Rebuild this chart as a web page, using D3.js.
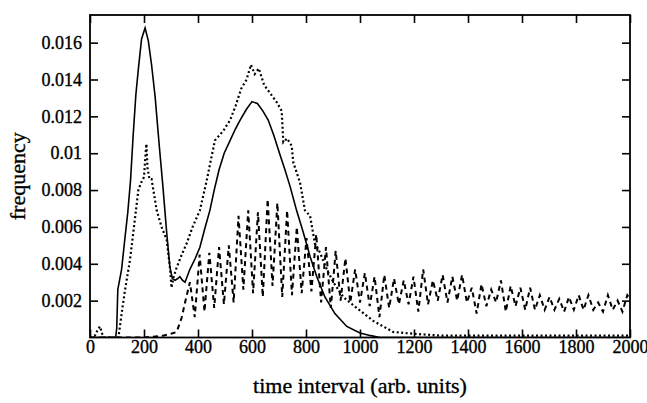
<!DOCTYPE html>
<html>
<head>
<meta charset="utf-8">
<script src="https://cdn.jsdelivr.net/npm/d3@7"></script>
<style>
  body { margin: 0; background: #fff; }
  svg { display: block; }
  text { font-family: "Liberation Serif", "DejaVu Serif", serif; fill: #000; stroke: #000; stroke-width: 0.35px; }
</style>
</head>
<body>
<svg id="chart" width="647" height="403"></svg>
<script>
// tick labels
const xTicks = [0, 200, 400, 600, 800, 1000, 1200, 1400, 1600, 1800, 2000]
const yTicks = [0.002, 0.004, 0.006, 0.008, 0.01, 0.012, 0.014, 0.016]

// solid curve
const solidX = [0, 95, 99, 103, 117, 128, 140, 150, 160, 170, 180, 191, 204, 216, 228, 241, 256, 270, 284, 296, 305, 315, 325, 333, 343, 352, 370, 390, 407, 425, 444, 460, 478, 497, 519, 538, 556, 580, 600, 620, 640, 660, 680, 704, 722, 741, 765, 790, 815, 840, 870, 907, 951, 1000, 1040, 1074, 2000]
const solidY = [0, 0, 0.0005, 0.0026, 0.0037, 0.0052, 0.0068, 0.0085, 0.0110, 0.0132, 0.0147, 0.0162, 0.0168, 0.0161, 0.0148, 0.0131, 0.0105, 0.0082, 0.0057, 0.0038, 0.0032, 0.0031, 0.0032, 0.0033, 0.0031, 0.0030, 0.0037, 0.0043, 0.0049, 0.0059, 0.0069, 0.0080, 0.0091, 0.0100, 0.0107, 0.0113, 0.0118, 0.0124, 0.0128, 0.0127, 0.0123, 0.0118, 0.0110, 0.0099, 0.0091, 0.0082, 0.0069, 0.0057, 0.0044, 0.0033, 0.0022, 0.0013, 0.0006, 0.00024, 0.0001, 0, 0]

// dotted curve
const dotX = [0, 18, 28, 37, 45, 55, 105, 111, 120, 130, 148, 167, 179, 192, 200, 205, 209, 213, 220, 228, 247, 265, 284, 296, 302, 310, 321, 340, 358, 380, 407, 432, 450, 463, 493, 519, 540, 560, 580, 596, 610, 625, 645, 665, 690, 710, 716, 730, 747, 753, 778, 796, 815, 833, 852, 877, 901, 938, 988, 1049, 1123, 1200, 1300, 2000]
const dotY = [0, 0.0001, 0.0004, 0.0006, 0.0002, 0, 0, 0.0006, 0.0016, 0.0026, 0.0042, 0.0065, 0.0080, 0.0085, 0.0087, 0.0098, 0.0105, 0.0092, 0.0086, 0.0086, 0.0069, 0.0060, 0.0053, 0.0038, 0.0027, 0.0033, 0.0038, 0.0045, 0.0051, 0.0060, 0.0069, 0.0085, 0.0098, 0.0107, 0.0112, 0.0118, 0.0126, 0.0135, 0.0140, 0.0148, 0.0143, 0.0146, 0.0137, 0.0133, 0.0128, 0.0123, 0.0106, 0.0108, 0.0104, 0.0095, 0.0084, 0.0069, 0.0066, 0.0051, 0.0046, 0.0037, 0.0030, 0.0022, 0.0016, 0.0009, 0.0003, 0.0002, 0.0001, 0.0001]

// dashed curve (fast oscillation)
const dashX = [0, 100, 200, 270, 300, 321, 340, 352,
  370, 388, 406, 424, 442, 460, 478, 496, 514, 532, 550, 568, 586, 604, 622, 640, 658, 676, 694, 712, 730, 748,
  766, 784, 802, 820, 838, 856, 874, 892, 910, 928, 946, 964, 982, 1000, 1018, 1036, 1054, 1072, 1090, 1108,
  1126, 1144, 1162, 1180, 1198, 1216, 1234, 1252, 1270, 1288, 1306, 1324, 1342, 1360, 1378, 1396, 1414, 1432,
  1450, 1468, 1486, 1504, 1522, 1540, 1558, 1576, 1594, 1612, 1630, 1648, 1666, 1684, 1702, 1720, 1738, 1756,
  1774, 1792, 1810, 1828, 1846, 1864, 1882, 1900, 1918, 1936, 1954, 1972, 1990, 2000]
const dashY = [0, 0, 0, 0.0001, 0.0002, 0.0003, 0.0011, 0.0019,
  0.0030, 0.0011, 0.0045, 0.0014, 0.0046, 0.0016, 0.0049, 0.0018, 0.0050, 0.0019, 0.0066, 0.0026, 0.0069, 0.0024, 0.0068, 0.0022, 0.0075, 0.0028, 0.0073, 0.0022, 0.0069, 0.0023,
  0.0060, 0.0024, 0.0054, 0.0025, 0.0056, 0.0019, 0.0049, 0.0016, 0.0047, 0.0020, 0.0043, 0.0019, 0.0037, 0.0019, 0.0035, 0.0017, 0.0033, 0.0011, 0.0034, 0.0016,
  0.0032, 0.0018, 0.0031, 0.0018, 0.0033, 0.0014, 0.0037, 0.0018, 0.0031, 0.0020, 0.0034, 0.0019, 0.0033, 0.0020, 0.0034, 0.0019, 0.0027, 0.0013,
  0.0029, 0.0017, 0.0026, 0.0019, 0.0031, 0.0014, 0.0028, 0.0017, 0.0027, 0.0015, 0.0027, 0.0015, 0.0023, 0.0015, 0.0022, 0.0015, 0.0021, 0.0014,
  0.0022, 0.0015, 0.0023, 0.0015, 0.0023, 0.0015, 0.0019, 0.0014, 0.0023, 0.0015, 0.0020, 0.0014, 0.0023, 0.0021]

const mLeft = 90, mRight = 630, mTop = 15, mBottom = 337.5
const svg = d3.select("#chart")

const x = d3.scaleLinear().domain([0, 2000]).range([mLeft, mRight])
const y = d3.scaleLinear().domain([0, 0.0175]).range([mBottom, mTop])

svg.append("defs").append("clipPath").attr("id", "clip")
  .append("rect")
  .attr("x", mLeft).attr("y", mTop)
  .attr("width", mRight - mLeft).attr("height", mBottom - mTop)

// axes, ticks pointing inward
const fmt = d => String(d)
function styleAxis(g, showText) {
  g.select(".domain").remove()
  g.selectAll(".tick line").attr("stroke", "#000").attr("stroke-width", 1.6)
  if (showText) {
    g.selectAll(".tick text").attr("font-size", 18).attr("font-family", "Liberation Serif, serif")
  } else {
    g.selectAll(".tick text").remove()
  }
}

svg.append("g").attr("transform", `translate(0,${mBottom})`)
  .call(d3.axisBottom(x).tickValues(xTicks).tickSize(-8).tickPadding(3).tickFormat(fmt))
  .call(g => styleAxis(g, true))
svg.append("g").attr("transform", `translate(0,${mTop})`)
  .call(d3.axisTop(x).tickValues(xTicks).tickSize(-8))
  .call(g => styleAxis(g, false))
svg.append("g").attr("transform", `translate(${mLeft},0)`)
  .call(d3.axisLeft(y).tickValues(yTicks).tickSize(-8).tickPadding(8).tickFormat(fmt))
  .call(g => styleAxis(g, true))
svg.append("g").attr("transform", `translate(${mRight},0)`)
  .call(d3.axisRight(y).tickValues(yTicks).tickSize(-8))
  .call(g => styleAxis(g, false))

const line = d3.line().x(d => x(d[0])).y(d => y(d[1]))
const plot = svg.append("g").attr("clip-path", "url(#clip)")

plot.append("path")
  .datum(d3.zip(dashX, dashY))
  .attr("d", line)
  .attr("fill", "none")
  .attr("stroke", "#000")
  .attr("stroke-width", 2)
  .attr("stroke-dasharray", "5,4")

plot.append("path")
  .datum(d3.zip(dotX, dotY))
  .attr("d", line)
  .attr("fill", "none")
  .attr("stroke", "#000")
  .attr("stroke-width", 2.2)
  .attr("stroke-dasharray", "2,2.5")

plot.append("path")
  .datum(d3.zip(solidX, solidY))
  .attr("d", line)
  .attr("fill", "none")
  .attr("stroke", "#000")
  .attr("stroke-width", 1.6)

// frame
svg.append("rect")
  .attr("x", mLeft).attr("y", mTop)
  .attr("width", mRight - mLeft).attr("height", mBottom - mTop)
  .attr("fill", "none")
  .attr("stroke", "#000")
  .attr("stroke-width", 1.8)

// axis titles
svg.append("text")
  .attr("x", (mLeft + mRight) / 2).attr("y", 393)
  .attr("text-anchor", "middle")
  .attr("font-size", 22)
  .text("time interval (arb. units)")

svg.append("text")
  .attr("transform", `translate(25,${(mTop + mBottom) / 2}) rotate(-90)`)
  .attr("text-anchor", "middle")
  .attr("font-size", 22)
  .text("frequency")
</script>
</body>
</html>
